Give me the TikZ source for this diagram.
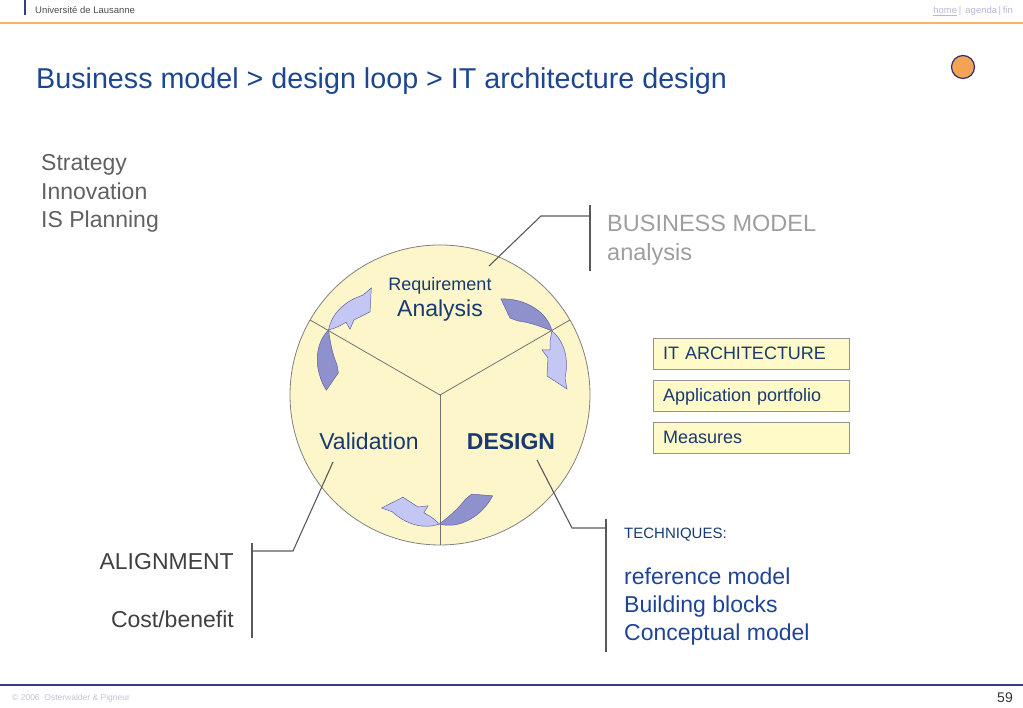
\documentclass[tikz,border=0pt]{standalone}
\usepackage{fontspec}
\setmainfont{Liberation Sans}

\definecolor{titleblue}{RGB}{28,70,145}
\definecolor{navy}{RGB}{24,58,112}
\definecolor{listblue}{RGB}{30,68,150}
\definecolor{discfill}{RGB}{253,246,203}
\definecolor{boxfill}{RGB}{255,250,200}
\definecolor{arrowdark}{RGB}{142,145,204}
\definecolor{arrowlight}{RGB}{196,199,244}
\definecolor{arrowline}{RGB}{95,98,160}
\definecolor{headorange}{RGB}{246,178,107}
\definecolor{footblue}{RGB}{58,58,140}
\definecolor{dotorange}{RGB}{244,162,84}

\tikzset{
    txt/.style = {inner sep=0pt, anchor=base west},
    big/.style = {font=\fontsize{23}{28}\selectfont},
    itbox/.style = {draw=gray!85, fill=boxfill, minimum width=196pt, minimum height=31pt,
                    inner xsep=10pt, text width=176pt, align=left, text height=13pt, text depth=0pt,
                    font=\fontsize{18}{21}\selectfont, text=navy},
    leader/.style = {draw=black!65, line width=1.1pt},
    bar/.style = {draw=black!65, line width=1.3pt},
    backpart/.style = {fill=arrowdark, draw=arrowline, line width=0.5pt},
    frontpart/.style = {fill=arrowlight, draw=arrowline, line width=0.5pt}
}

% one curved arrow of the loop, turned round the disc centre
\newcommand\loopArrow[1]{%
    \begin{scope}[rotate around={#1:(C)}]
        \path[backpart] (501,409) .. controls (524,410) and (547,397) .. (552,377)
            .. controls (540,382) and (528,386) .. (518,387) -- (510,390) -- cycle;
        \path[frontpart] (552,377) .. controls (565,366) and (569,348) .. (565,330)
            -- (567,319) -- (547,332) -- (548,350) -- (542,358) -- (550,358)
            .. controls (550,368) .. cycle;
    \end{scope}}

\begin{document}
\begin{tikzpicture}[x=1pt, y=1pt]
    \useasboundingbox (0,0) rectangle (1023,708);

    % header and footer
    \draw[footblue, line width=1.5pt] (25,708) -- (25,693);
    \node[txt, font=\fontsize{9.5}{11}\selectfont, text=black!70] (uni) at (35,694) {Université de Lausanne};
    \node[inner sep=0pt, anchor=base east, font=\fontsize{9.5}{11}\selectfont, text=blue!25!gray!45] (nav) at (1013,694) {\underline{home}\,|\,\ agenda\,|\,fin};
    \draw[headorange, line width=1.3pt] (0,685) -- (1023,685);
    \draw[footblue, line width=1.2pt] (0,23) -- (1023,23);
    \node[txt, font=\fontsize{8.5}{10}\selectfont, text=blue!20!gray!40] (copy) at (12,7) {© 2006\ \ Osterwalder \& Pigneur};
    \node[inner sep=0pt, anchor=base east, font=\fontsize{14}{16}\selectfont, text=black!80] (page) at (1013,5) {59};
    \draw[fill=dotorange, draw=footblue!80!black, line width=1.2pt] (963,641) circle [radius=11.5];

    % title
    \node[txt, font=\fontsize{28.7}{33}\selectfont, text=titleblue] (title) at (36,619) {Business model > design loop > IT architecture design};

    % left column
    \node[txt, big, text=black!62] (strat) at (41,537) {Strategy};
    \node[txt, big, text=black!62] (innov) at (41,508.5) {Innovation};
    \node[txt, big, text=black!62] (isplan) at (41,480) {IS Planning};

    % the design loop
    \coordinate (C) at (440,313);
    \draw[fill=discfill, draw=black!50, line width=0.8pt] (C) circle [radius=150];
    \loopArrow{0}
    \loopArrow{120}
    \loopArrow{240}
    \draw[black!55, line width=0.8pt] (C) -- ++(150:150);
    \draw[black!55, line width=0.8pt] (C) -- ++(30:150);
    \draw[black!55, line width=0.8pt] (C) -- ++(270:150);

    \node[inner sep=0pt, anchor=base, font=\fontsize{18}{21}\selectfont, text=navy] (req) at (440,417.5) {Requirement};
    \node[inner sep=0pt, anchor=base, big, text=navy] (ana) at (440,391) {Analysis};
    \node[inner sep=0pt, anchor=base, big, text=navy] (valid) at (369,258) {Validation};
    \node[inner sep=0pt, anchor=base, font=\fontsize{23}{28}\selectfont\bfseries, text=navy] (design) at (511,258) {DESIGN};

    % business model callout
    \coordinate (reqEnd) at (489,442);
    \coordinate (reqKnee) at (541,492);
    \coordinate (bmTop) at (590,503);
    \coordinate (bmBot) at (590,437);
    \draw[bar] (bmTop) -- (bmBot);
    \draw[leader] (reqEnd) -- (reqKnee) -- (reqKnee -| bmTop);
    \node[txt, font=\fontsize{23.5}{28}\selectfont, text=black!38] (bm) at (607,476) {BUSINESS MODEL};
    \node[txt, font=\fontsize{23.5}{28}\selectfont, text=black!38] (bmana) at (607,447.5) {analysis};

    % IT architecture boxes
    \node[itbox] (itArch) at (751,354.5) {IT ARCHITECTURE};
    \node[itbox] (appPort) at (751,312.5) {Application portfolio};
    \node[itbox] (measures) at (751,270.5) {Measures};

    % validation callout
    \coordinate (valEnd) at (333,246);
    \coordinate (valKnee) at (293,157);
    \coordinate (alTop) at (252,165);
    \coordinate (alBot) at (252,70);
    \draw[bar] (alTop) -- (alBot);
    \draw[leader] (valEnd) -- (valKnee) -- (valKnee -| alTop);
    \node[inner sep=0pt, anchor=base east, big, text=black!75] (align) at (234,138) {ALIGNMENT};
    \node[inner sep=0pt, anchor=base east, big, text=black!75] (cost) at (234,80) {Cost/benefit};

    % design callout
    \coordinate (desEnd) at (537,248);
    \coordinate (desKnee) at (572,180);
    \coordinate (techTop) at (606,189);
    \coordinate (techBot) at (606,56);
    \draw[bar] (techTop) -- (techBot);
    \draw[leader] (desEnd) -- (desKnee) -- (desKnee -| techTop);
    \node[txt, font=\fontsize{15}{18}\selectfont, text=navy] (tech) at (624,169.5) {TECHNIQUES:};
    \node[txt, big, text=listblue] (refm) at (624,123) {reference model};
    \node[txt, big, text=listblue] (bblk) at (624,95) {Building blocks};
    \node[txt, big, text=listblue] (concm) at (624,67) {Conceptual model};
\end{tikzpicture}
\end{document}
